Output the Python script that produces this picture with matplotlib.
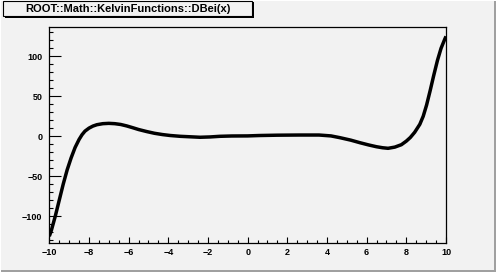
import matplotlib
matplotlib.use("Agg")
import matplotlib.pyplot as plt
from matplotlib.patches import Rectangle
from matplotlib.ticker import MultipleLocator

# values
x_vals = [-10, -9.9, -9.7, -9.5, -9.3, -9.1, -8.9, -8.7, -8.5, -8.35,
          -8.2, -8.0, -7.8, -7.6, -7.3, -7.0, -6.7, -6.4, -6.1, -5.8,
          -5.5, -5.1, -4.7, -4.3, -3.9, -3.4, -2.9, -2.4, -1.9, -1.4,
          -0.8, 0.0, 0.6, 1.5, 2.6, 3.6, 4.2, 4.65, 5.2, 5.66,
          6.1, 6.49, 6.8, 7.08, 7.42, 7.75, 8.0, 8.2, 8.42, 8.68,
          8.85, 9.02, 9.2, 9.38, 9.57, 9.75, 9.93, 10]
y_vals = [-125, -118, -100, -80, -60, -42, -27, -14, -4, 2,
          6.5, 10.2, 12.8, 14.5, 15.8, 16.2, 15.8, 14.8, 13, 10.8,
          8.5, 6, 3.8, 2.2, 1.0, 0.0, -0.6, -1.2, -0.8, 0.0,
          0.4, 0.5, 1.0, 1.4, 1.6, 1.6, 0.5, -1.7, -4.8, -8,
          -10.8, -13, -14.3, -15, -13.5, -10.5, -6, -1.5, 5, 15,
          25, 39, 57, 76, 95, 110, 121, 125]
title = "ROOT::Math::KelvinFunctions::DBei(x)"
x_ticks = [-10, -8, -6, -4, -2, 0, 2, 4, 6, 8, 10]
y_ticks = [-100, -50, 0, 50, 100]

W, H = 496, 272
bg = "#f2f2f2"
fig = plt.figure(figsize=(W / 100, H / 100), dpi=100, facecolor=bg)

# pad bevel (dark on right and bottom)
fig.patches.append(Rectangle((0, 0), 1, 2 / H, transform=fig.transFigure,
                             facecolor="#a0a0a0", edgecolor="none"))
fig.patches.append(Rectangle((1 - 2 / W, 0), 2 / W, 1, transform=fig.transFigure,
                             facecolor="#a0a0a0", edgecolor="none"))
fig.patches.append(Rectangle((0, 1 - 1 / H), 1, 1 / H, transform=fig.transFigure,
                             facecolor="white", edgecolor="none"))
fig.patches.append(Rectangle((0, 0), 1 / W, 1, transform=fig.transFigure,
                             facecolor="white", edgecolor="none"))

ax = fig.add_axes([49.3 / W, (H - 243) / H, (446 - 49.3) / W, (243 - 26.5) / H])
ax.set_facecolor(bg)
ax.plot(x_vals, y_vals, color="black", lw=2.5, solid_capstyle="butt",
        solid_joinstyle="round")
ax.set_xlim(-10, 10)
ax.set_ylim(-133.4, 137.3)

ax.set_xticks(x_ticks)
ax.set_yticks(y_ticks)
ax.xaxis.set_minor_locator(MultipleLocator(0.5))
ax.yaxis.set_minor_locator(MultipleLocator(10))
ax.tick_params(axis="x", which="major", direction="in", length=4.6, width=0.8, pad=3.5)
ax.tick_params(axis="x", which="minor", direction="in", length=2.3, width=0.8)
ax.tick_params(axis="y", which="major", direction="in", length=8.6, width=0.8, pad=5)
ax.tick_params(axis="y", which="minor", direction="in", length=3.0, width=0.8)
for lab in ax.get_xticklabels() + ax.get_yticklabels():
    lab.set_fontfamily("Liberation Sans")
    lab.set_fontweight("bold")
    lab.set_fontsize(6.5)
for sp in ax.spines.values():
    sp.set_linewidth(0.9)

# title box with shadow
fig.patches.append(Rectangle((5 / W, 1 - 18 / H), 249 / W, 16 / H, transform=fig.transFigure,
                             facecolor="black", edgecolor="none"))
fig.patches.append(Rectangle((3 / W, 1 - 16 / H), 249 / W, 15 / H, transform=fig.transFigure,
                             facecolor=bg, edgecolor="black", lw=0.8))
fig.text(128 / W, 1 - 8.5 / H, title, ha="center", va="center",
         fontfamily="Liberation Sans", fontweight="bold", fontsize=8)

fig.savefig("out.png", dpi=100, facecolor=bg)
